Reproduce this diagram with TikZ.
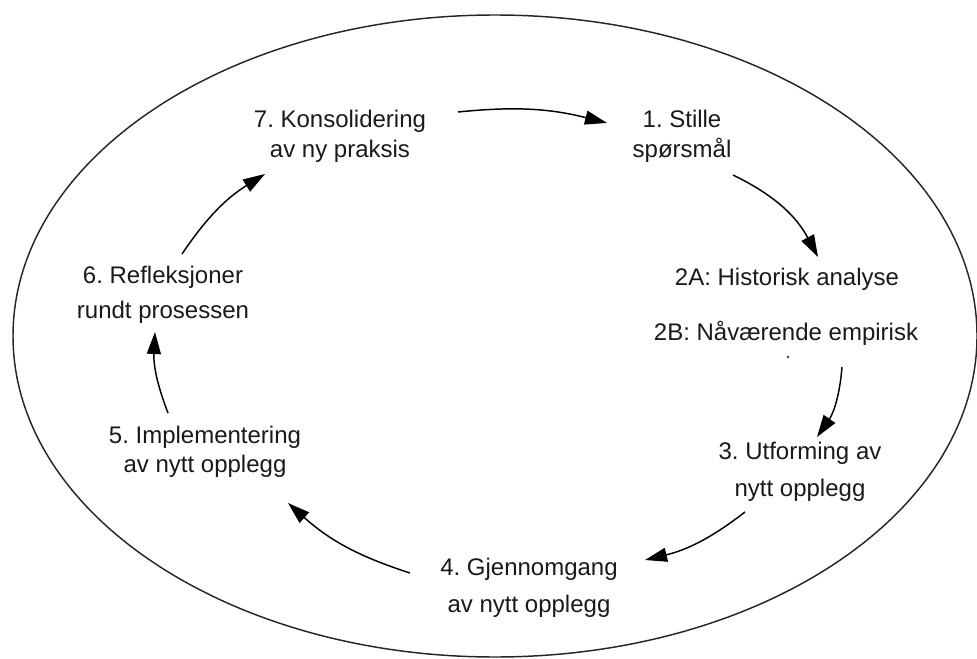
\documentclass[tikz,border=0pt]{standalone}
\usepackage{fontspec}
\setmainfont{Liberation Sans}
\usetikzlibrary{arrows.meta}
\frenchspacing
\begin{document}
\begin{tikzpicture}[x=0.75pt,y=0.75pt,
  lbl/.style={align=center,inner sep=0pt,text=black!90},
  sp/.style={font=\fontsize{18}{#1}\selectfont},
  arr/.style={line width=1.1pt,-{Triangle[length=16.5pt,width=10.5pt]}},
  ring/.style={line width=1.1pt,draw=black!85}]
\useasboundingbox (0,0) rectangle (977,-659);
\draw[ring] (495,-336) ellipse [x radius=482, y radius=321];

\node[lbl,sp=22.5] (n7) at (340,-136) {7. Konsolidering\\av ny praksis};
\node[lbl,sp=22.5] (n1) at (682,-136) {1. Stille\\spørsmål};
\node[lbl,sp=22.5,anchor=base] (n2a) at (787,-285) {2A: Historisk analyse};
\node[lbl,sp=22.5,anchor=base] (n2b) at (786,-340) {2B: Nåværende empirisk};
\node[circle,fill=black!80,inner sep=0pt,minimum size=2.2pt] (dot) at (788,-357) {};
\node[lbl,sp=27.75] (n3) at (800,-472) {3. Utforming av\\nytt opplegg};
\node[lbl,sp=27.75] (n4) at (529,-588) {4. Gjennomgang\\av nytt opplegg};
\node[lbl,sp=21.75] (n5) at (205,-452) {5. Implementering\\av nytt opplegg};
\node[lbl,sp=26.25] (n6) at (163,-295) {6. Refleksjoner\\rundt prosessen};

\draw[arr] ([shift={(118,24)}]n7.center) to[bend left=10] ([shift={(-75,13)}]n1.center);
\draw[arr] ([shift={(51,-39)}]n1.center) to[bend left=18] ([shift={(31,28)}]n2a.base);
\draw[arr] ([shift={(56,-27)}]n2b.base) to[bend left=15] ([shift={(17,35)}]n3.center);
\draw[arr] ([shift={(-55,-40)}]n3.center) to[bend left=12] ([shift={(116,28)}]n4.center);
\draw[arr] ([shift={(-119,15)}]n4.center) to[bend left=12] ([shift={(83,-51)}]n5.center);
\draw[arr] ([shift={(-37,39)}]n5.center) to[bend left=12] ([shift={(-8,-37)}]n6.center);
\draw[arr] ([shift={(19,41)}]n6.center) to[bend left=12] ([shift={(-75,-38)}]n7.center);
\end{tikzpicture}
\end{document}
